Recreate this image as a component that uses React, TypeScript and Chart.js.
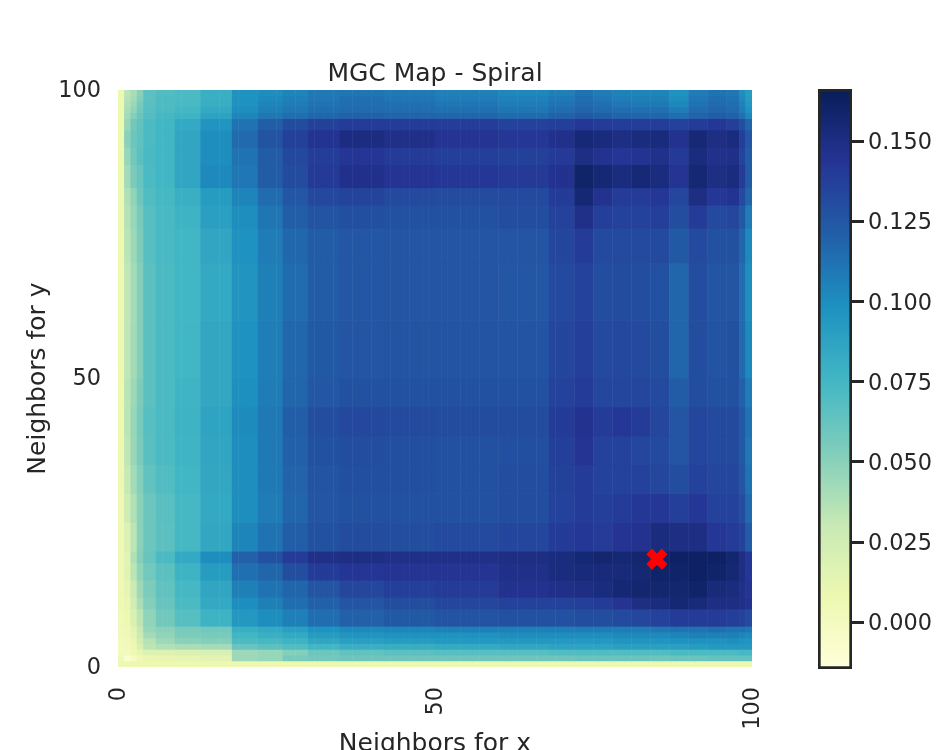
import React, { useEffect, useRef } from "react";
import { Chart, registerables } from "chart.js";

Chart.register(...registerables);

const FONT = "'DejaVu Sans'";
const INK = "#262626";
const titleText = "MGC Map - Spiral";
const xTitle = "Neighbors for x";
const yTitle = "Neighbors for y";
const vMin = -0.0146;
const vMax = 0.1664;
const colorStops = ["#ffffd9", "#edf8b1", "#c7e9b4", "#7fcdbb", "#41b6c4", "#1d91c0", "#225ea8", "#253494", "#081d58"];
const barTicks = [0, 0.025, 0.05, 0.075, 0.1, 0.125, 0.15];
const best = [85, 18.7];

// Column bands (left to right) in neighbor bins.
const colEdges = [0, 1, 2, 3, 4, 6, 9, 13, 18, 22, 26, 30, 35, 42, 50, 60, 68, 72, 75, 78, 81, 84, 87, 90, 93, 96, 98, 99, 100];
// Row bands, top to bottom, in neighbor bins.
const rowEdges = [100, 99, 98, 97, 96, 95, 93, 90, 87, 83, 80, 76, 70, 60, 50, 45, 40, 35, 30, 25, 20, 18, 15, 12, 10, 7, 6, 5, 4, 3, 2, 1, 0];
// One line per row band, values in thousandths.
const heatRows = [
  [8, 34, 40, 50, 66, 70, 72, 80, 97, 100, 104, 109, 111, 109, 106, 103, 106, 112, 108, 105, 104, 104, 97, 108, 112, 110, 100, 92],
  [8, 36, 42, 52, 66, 71, 72, 80, 97, 102, 106, 110, 113, 111, 108, 105, 109, 114, 110, 107, 106, 106, 100, 110, 114, 112, 102, 93],
  [8, 38, 45, 56, 67, 71, 73, 81, 98, 104, 108, 112, 114, 113, 111, 108, 112, 116, 113, 110, 109, 109, 103, 112, 116, 114, 105, 95],
  [8, 40, 48, 58, 68, 72, 75, 84, 100, 106, 110, 114, 116, 115, 113, 111, 115, 119, 116, 114, 113, 113, 108, 115, 118, 116, 108, 98],
  [8, 42, 52, 62, 69, 74, 78, 88, 104, 110, 114, 118, 120, 119, 118, 116, 120, 124, 121, 119, 118, 118, 114, 119, 122, 120, 113, 103],
  [8, 45, 58, 64, 72, 76, 84, 96, 112, 121, 131, 137, 140, 140, 139, 136, 138, 142, 140, 139, 139, 139, 136, 140, 142, 138, 130, 118],
  [8, 50, 60, 65, 72, 76, 86, 100, 116, 127, 137, 145, 151, 148, 144, 142, 147, 155, 153, 150, 152, 153, 146, 155, 150, 152, 138, 125],
  [8, 46, 58, 66, 73, 76, 86, 100, 112, 123, 133, 139, 143, 140, 138, 137, 141, 150, 146, 143, 145, 147, 141, 152, 147, 148, 135, 122],
  [8, 42, 55, 62, 72, 76, 86, 102, 110, 123, 131, 141, 147, 144, 142, 141, 146, 160, 156, 152, 155, 152, 144, 156, 150, 152, 140, 122],
  [8, 38, 48, 60, 70, 74, 80, 92, 104, 115, 125, 133, 135, 132, 131, 132, 140, 156, 146, 140, 140, 142, 134, 150, 142, 145, 132, 118],
  [8, 36, 46, 56, 68, 73, 78, 90, 100, 111, 121, 127, 129, 128, 128, 130, 136, 148, 138, 136, 136, 138, 130, 140, 132, 134, 124, 108],
  [8, 34, 44, 54, 68, 73, 76, 86, 98, 108, 117, 123, 125, 126, 126, 126, 134, 140, 132, 132, 132, 132, 124, 132, 128, 128, 118, 102],
  [8, 32, 42, 52, 66, 72, 76, 84, 96, 106, 115, 122, 125, 126, 126, 125, 132, 136, 130, 131, 130, 128, 118, 130, 126, 126, 114, 100],
  [8, 33, 42, 52, 66, 72, 76, 85, 98, 107, 117, 124, 126, 127, 127, 127, 134, 138, 132, 133, 132, 130, 118, 130, 127, 128, 116, 102],
  [8, 34, 44, 54, 66, 72, 77, 85, 99, 108, 118, 125, 128, 128, 128, 128, 136, 140, 134, 134, 134, 132, 122, 130, 128, 128, 120, 108],
  [8, 34, 46, 56, 68, 72, 78, 87, 101, 109, 121, 130, 133, 132, 131, 131, 140, 146, 140, 142, 140, 134, 126, 134, 132, 132, 124, 112],
  [8, 33, 45, 55, 67, 72, 77, 86, 100, 109, 120, 128, 130, 129, 128, 129, 138, 144, 136, 136, 134, 132, 126, 134, 132, 132, 124, 110],
  [8, 30, 42, 52, 64, 70, 76, 85, 100, 109, 119, 127, 129, 129, 128, 130, 137, 140, 136, 136, 136, 134, 130, 136, 134, 134, 126, 112],
  [7, 26, 38, 50, 60, 67, 74, 84, 100, 108, 118, 126, 128, 128, 128, 130, 136, 140, 138, 140, 142, 142, 138, 142, 136, 136, 130, 116],
  [6, 18, 34, 50, 60, 66, 74, 85, 104, 112, 121, 128, 131, 130, 132, 134, 140, 142, 140, 144, 146, 152, 150, 150, 142, 140, 136, 122],
  [6, 14, 38, 52, 62, 72, 84, 100, 120, 128, 140, 148, 150, 148, 148, 150, 152, 156, 158, 156, 158, 160, 162, 162, 162, 158, 150, 142],
  [6, 16, 34, 48, 58, 66, 78, 92, 113, 118, 130, 140, 143, 144, 144, 148, 152, 154, 154, 154, 156, 160, 160, 162, 160, 156, 150, 142],
  [5, 12, 28, 44, 54, 64, 74, 86, 106, 112, 118, 126, 134, 138, 140, 146, 148, 150, 152, 156, 158, 158, 158, 160, 154, 152, 148, 144],
  [5, 10, 24, 40, 52, 62, 72, 84, 100, 106, 114, 120, 126, 130, 134, 136, 136, 138, 140, 144, 150, 152, 156, 154, 150, 150, 148, 146],
  [4, 8, 20, 34, 48, 58, 68, 78, 94, 100, 106, 114, 120, 124, 127, 128, 128, 130, 130, 132, 134, 136, 140, 140, 140, 138, 136, 132],
  [3, 6, 14, 30, 46, 50, 56, 58, 80, 84, 90, 98, 102, 104, 106, 106, 107, 108, 108, 108, 108, 110, 112, 112, 114, 112, 112, 110],
  [3, 5, 12, 28, 42, 48, 54, 56, 76, 80, 84, 92, 96, 98, 98, 100, 100, 100, 100, 102, 102, 102, 104, 106, 106, 106, 104, 102],
  [2, 4, 10, 24, 36, 44, 50, 52, 72, 74, 78, 86, 90, 92, 94, 94, 94, 94, 94, 96, 96, 96, 98, 98, 98, 100, 98, 96],
  [2, 3, 8, 20, 34, 38, 40, 42, 62, 66, 70, 76, 80, 82, 84, 86, 88, 88, 88, 90, 90, 90, 90, 92, 94, 94, 94, 94],
  [2, 2, 5, 12, 18, 18, 19, 20, 44, 46, 52, 60, 64, 66, 68, 68, 70, 70, 70, 70, 70, 70, 72, 72, 72, 72, 74, 74],
  [4, -8, -2, 6, 10, 11, 12, 14, 44, 46, 56, 58, 60, 60, 60, 60, 60, 62, 62, 62, 62, 60, 62, 62, 64, 64, 64, 64],
  [8, 8, 8, 8, 8, 8, 8, 8, 8, 8, 8, 8, 8, 8, 8, 8, 8, 8, 8, 8, 8, 8, 8, 8, 8, 8, 8, 8],
];

function hexToRgb(hex: string) {
  return [1, 3, 5].map((i) => parseInt(hex.slice(i, i + 2), 16));
}

function colorFor(value: number) {
  const t = Math.min(1, Math.max(0, (value - vMin) / (vMax - vMin))) * (colorStops.length - 1);
  const i = Math.min(colorStops.length - 2, Math.floor(t));
  const a = hexToRgb(colorStops[i]);
  const b = hexToRgb(colorStops[i + 1]);
  const f = t - i;
  return `rgb(${a.map((c, k) => Math.round(c + (b[k] - c) * f)).join(",")})`;
}

const binLabels = Array.from({ length: 100 }, (_, i) => String(i));

function bandOf(bin: number) {
  let c = 0;
  while (bin >= colEdges[c + 1]) c++;
  return c;
}

const heatDatasets = heatRows.map((row, r) => ({
  type: "bar" as const,
  xAxisID: "cat",
  yAxisID: "y",
  order: 1,
  grouped: false,
  barPercentage: 1.08,
  categoryPercentage: 1,
  borderWidth: 0,
  data: binLabels.map(() => [rowEdges[r + 1], rowEdges[r] + 0.12]),
  backgroundColor: binLabels.map((_, i) => colorFor(row[bandOf(i)] / 1000)),
}));

export default function App() {
  const mainRef = useRef<HTMLCanvasElement>(null);
  const barRef = useRef<HTMLCanvasElement>(null);

  useEffect(() => {
    const tickFont = { family: FONT, size: 22.4 };
    const labelFont = { family: FONT, size: 25 };
    const main = new Chart(mainRef.current!, {
      type: "bar",
      data: {
        labels: binLabels,
        datasets: [
          {
            type: "scatter",
            xAxisID: "x",
            yAxisID: "y",
            order: 0,
            data: [{ x: best[0], y: best[1] }],
            pointStyle: "crossRot",
            pointRadius: 11,
            pointBorderWidth: 8,
            pointBorderColor: "#ff0000",
            pointBackgroundColor: "#ff0000",
          },
          ...heatDatasets,
        ] as any,
      },
      options: {
        animation: false,
        responsive: false,
        layout: { padding: { top: 0, right: 48, bottom: 0, left: 0 } },
        plugins: {
          legend: { display: false },
          tooltip: { enabled: false },
        },
        scales: {
          x: {
            type: "linear",
            position: "bottom",
            offset: false,
            min: 0,
            max: 100,
            grid: { display: false, drawTicks: false },
            border: { display: false },
            ticks: { stepSize: 50, color: INK, font: tickFont, minRotation: 90, maxRotation: 90, padding: 20, labelOffset: 1.5 },
            title: { display: true, text: xTitle, color: INK, font: labelFont, padding: { top: 0, bottom: -9 } },
            afterFit: (s: any) => { s.height = 83; },
          },
          top: {
            type: "linear",
            axis: "x",
            position: "top",
            offset: false,
            min: 0,
            max: 100,
            grid: { display: false, drawTicks: false },
            border: { display: false },
            ticks: { display: false },
            title: { display: true, text: titleText, color: INK, font: labelFont, padding: { top: 59, bottom: 0 } },
            afterFit: (s: any) => { s.height = 90; },
          },
          cat: {
            type: "category",
            axis: "x",
            position: "bottom",
            labels: binLabels,
            display: false,
            offset: true,
          },
          y: {
            type: "linear",
            min: 0,
            max: 100,
            grid: { display: false, drawTicks: false },
            border: { display: false },
            ticks: { stepSize: 50, color: INK, font: tickFont, padding: 17, labelOffset: 1 },
            title: { display: true, text: yTitle, color: INK, font: labelFont, padding: { top: 23, bottom: 0 } },
            afterFit: (s: any) => { s.width = 118; },
          },
        },
      } as any,
    });

    const bar = new Chart(barRef.current!, {
      type: "bar",
      data: {
        labels: ["scale"],
        datasets: [
          {
            data: [[vMin, vMax]],
            barPercentage: 1,
            categoryPercentage: 1,
            borderWidth: 3,
            borderColor: INK,
            borderSkipped: false,
            backgroundColor: (ctx: any) => {
              const area = ctx.chart.chartArea;
              if (!area) return colorStops[0];
              const g = ctx.chart.ctx.createLinearGradient(0, area.bottom, 0, area.top);
              colorStops.forEach((c, i) => g.addColorStop(i / (colorStops.length - 1), c));
              return g;
            },
          },
        ] as any,
      },
      options: {
        animation: false,
        responsive: false,
        layout: { padding: { top: 89, bottom: 81, left: 18, right: 0 } },
        plugins: { legend: { display: false }, tooltip: { enabled: false } },
        scales: {
          x: { display: false },
          y: {
            position: "right",
            min: vMin,
            max: vMax,
            afterBuildTicks: (s: any) => { s.ticks = barTicks.map((value) => ({ value })); },
            grid: { drawOnChartArea: false, color: INK, lineWidth: 3, tickLength: 12 },
            border: { display: false },
            ticks: {
              color: INK,
              font: tickFont,
              padding: 4,
              labelOffset: 2,
              callback: (v: any) => Number(v).toFixed(3),
            },
            afterFit: (s: any) => { s.width = 92; },
          },
        },
      } as any,
    });

    return () => {
      main.destroy();
      bar.destroy();
    };
  }, []);

  return (
    <div style={{ position: "absolute", left: 0, top: 0, width: 944, height: 750, overflow: "hidden", background: "#fff" }}>
      <canvas ref={mainRef} width={800} height={750} style={{ position: "absolute", left: 0, top: 0 }} />
      <canvas ref={barRef} width={144} height={750} style={{ position: "absolute", left: 800, top: 0 }} />
    </div>
  );
}
